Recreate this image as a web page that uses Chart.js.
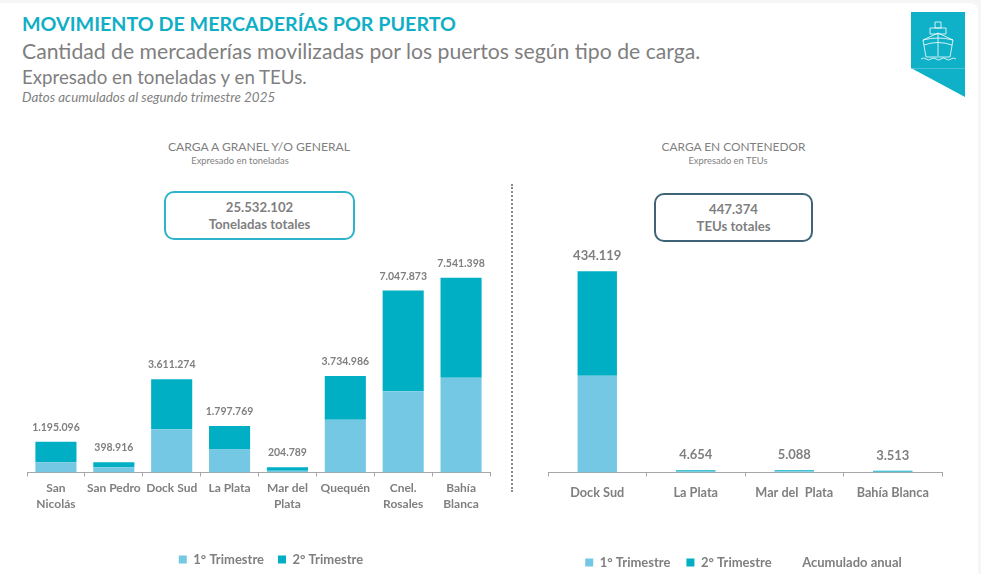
<!DOCTYPE html>
<html lang="es">
<head>
<meta charset="utf-8">
<title>Movimiento de mercaderías por puerto</title>
<script src="https://cdn.jsdelivr.net/npm/chart.js@4"></script>
<style>
  html, body { margin: 0; padding: 0; background: #f5f6f6; }
  body { width: 981px; height: 574px; overflow: hidden; position: relative; font-family: Lato, sans-serif; color: #7f7f7f; }
  #card { position: absolute; left: 0; top: 3px; width: 978px; height: 571px; background: #fff; border-radius: 0 8px 0 0; }
  .txt { position: absolute; white-space: nowrap; }
  .ctr { transform: translateX(-50%); text-align: center; }
  .box { position: absolute; box-sizing: border-box; background: #fff; border-radius: 10px; text-align: center; font-weight: 700; font-size: 13.2px; line-height: 17px; padding-top: 6px; }
  canvas { position: absolute; }
</style>
</head>
<body>
<div id="card"></div>
<div class="txt" style="left:22px;top:10px;font-size:19.7px;font-weight:700;color:#11afc6;line-height:28px">MOVIMIENTO DE MERCADERÍAS POR PUERTO</div>
<div class="txt" style="left:22px;top:37px;font-size:21.2px;line-height:28px">Cantidad de mercaderías movilizadas por los puertos según tipo de carga.</div>
<div class="txt" style="left:22px;top:65px;font-size:18.7px;line-height:24px">Expresado en toneladas y en TEUs.</div>
<div class="txt" style="left:22px;top:89px;font-size:13.4px;font-style:italic;line-height:16px">Datos acumulados al segundo trimestre 2025</div>

<div class="txt ctr" style="left:259px;top:139px;font-size:12.1px;line-height:16px">CARGA A GRANEL Y/O GENERAL</div>
<div class="txt ctr" style="left:240px;top:155px;font-size:9.4px;line-height:12px">Expresado en toneladas</div>
<div class="box" style="left:164px;top:191px;width:191px;height:49px;border:2px solid #2fb3cc">25.532.102<br>Toneladas totales</div>

<div class="txt ctr" style="left:733.5px;top:139px;font-size:11.9px;line-height:16px">CARGA EN CONTENEDOR</div>
<div class="txt ctr" style="left:728px;top:155px;font-size:9.4px;line-height:12px">Expresado en TEUs</div>
<div class="box" style="left:654px;top:193px;width:159px;height:49px;border:2px solid #3f6478">447.374<br>TEUs totales</div>

<div style="position:absolute;left:511px;top:184px;height:308px;border-left:2px dotted #8a8a8a"></div>

<svg style="position:absolute;left:911px;top:12px" width="54" height="86" viewBox="0 0 54 86">
  <polygon points="0,0 54,0 54,85 0,56" fill="#0fb1c8"/>
  <line x1="0" y1="56.5" x2="54" y2="56.5" stroke="#6fd0de" stroke-width="0.6"/>
  <g fill="none" stroke="#fff" stroke-width="0.8" stroke-linejoin="round">
    <rect x="24" y="10" width="6" height="6"/>
    <rect x="19" y="16" width="16" height="6"/>
    <path d="M12 28 L27 21 L42 28 L39 45 H15 Z"/>
    <path d="M12 28 Q27 24 42 28 M13 33 Q27 28 41 33"/>
    <line x1="27" y1="22" x2="27" y2="44"/>
    <path d="M10 47 q2.5 -2 5 0 t5 0 t5 0 t5 0 t5 0 t5 0 t5 0"/>
  </g>
</svg>

<canvas id="granel" style="left:0;top:240px"></canvas>
<canvas id="contenedor" style="left:515px;top:240px"></canvas>

<script>
const seriesNames = ['1° Trimestre', '2° Trimestre'];
const totalName = 'Acumulado anual';

const granelPorts = [['San', 'Nicolás'], 'San Pedro', 'Dock Sud', 'La Plata', ['Mar del', 'Plata'], 'Quequén', ['Cnel.', 'Rosales'], ['Bahía', 'Blanca']];
const granelQ1 = [400000, 205000, 1680000, 890000, 65000, 2040000, 3150000, 3670000];
const granelQ2 = [795096, 193916, 1931274, 907769, 139789, 1694986, 3897873, 3871398];
const granelTotals = [1195096, 398916, 3611274, 1797769, 204789, 3734986, 7047873, 7541398];

const contPorts = ['Dock Sud', 'La Plata', 'Mar del  Plata', 'Bahía Blanca'];
const contQ1 = [209000, 2300, 2500, 1700];
const contQ2 = [225119, 2354, 2588, 1813];
const contTotals = [434119, 4654, 5088, 3513];

const colorQ1 = '#74c8e3';
const colorQ2 = '#00afc3';
const gray = '#7f7f7f';
const axisGray = '#a6a6a6';

Chart.defaults.font.family = 'Lato, sans-serif';
Chart.defaults.color = gray;

// writes the accumulated value on top of every stacked bar
const totalLabels = {
  id: 'totalLabels',
  // the legend is not centred under the axis in the original
  afterLayout(chart, args, opts) {
    chart.legend.left += opts.legendShift;
    chart.legend.right += opts.legendShift;
  },
  afterDatasetsDraw(chart, args, opts) {
    const ctx = chart.ctx;
    const bars = chart.getDatasetMeta(1).data;
    ctx.save();
    ctx.font = '700 ' + opts.size + 'px Lato, sans-serif';
    ctx.fillStyle = gray;
    ctx.textAlign = 'center';
    ctx.textBaseline = 'alphabetic';
    opts.totals.forEach((v, i) => {
      ctx.fillText(v.toLocaleString('de-DE'), bars[i].x, chart.scales.y.getPixelForValue(v) - opts.gap);
    });
    ctx.restore();
  }
};

function makeChart(id, w, h, ports, q1, q2, totals, opt) {
  const datasets = [
    { label: seriesNames[0], data: q1, backgroundColor: colorQ1, stack: 'q' },
    { label: seriesNames[1], data: q2, backgroundColor: colorQ2, stack: 'q' }
  ];
  if (opt.showTotalLegend) {
    datasets.push({ type: 'line', label: totalName, data: totals, stack: 'tot', showLine: false, pointRadius: 0, backgroundColor: 'transparent', borderColor: 'transparent' });
  }
  const canvas = document.getElementById(id);
  canvas.width = w;
  canvas.height = h;
  canvas.style.width = w + 'px';
  canvas.style.height = h + 'px';
  return new Chart(canvas, {
    type: 'bar',
    data: { labels: ports, datasets: datasets },
    plugins: [totalLabels],
    options: {
      responsive: false,
      animation: false,
      devicePixelRatio: 1,
      categoryPercentage: 1,
      barPercentage: opt.barPct,
      layout: { padding: opt.padding },
      plugins: {
        title: { display: false },
        tooltip: { enabled: false },
        totalLabels: { totals: totals, size: opt.labelSize, gap: opt.labelGap, legendShift: opt.legendShift },
        legend: {
          position: 'bottom',
          labels: {
            boxWidth: opt.boxSize,
            boxHeight: opt.boxSize,
            padding: opt.legendPad,
            font: { size: 13, weight: 700 },
            color: gray
          }
        }
      },
      scales: {
        x: {
          stacked: true,
          afterFit(scale) { scale.height = opt.axisHeight; },
          border: { color: axisGray, width: 1 },
          grid: { offset: true, drawOnChartArea: false, drawTicks: true, tickLength: 4, color: axisGray },
          ticks: { font: { size: opt.tickSize, weight: 700, lineHeight: 1.3 }, color: gray, maxRotation: 0, minRotation: 0, autoSkip: false, padding: opt.tickPad }
        },
        y: { stacked: true, display: false, min: 0, max: opt.yMax }
      }
    }
  });
}

makeChart('granel', 510, 336, granelPorts, granelQ1, granelQ2, granelTotals, {
  barPct: 0.71, yMax: 8000000, padding: { left: 27, right: 20, top: 26, bottom: 0 },
  axisHeight: 66.5, boxSize: 8, legendPad: 14, legendShift: 12.5, tickSize: 12, tickPad: 4, labelSize: 10.5, labelGap: 11, showTotalLegend: false
});

makeChart('contenedor', 466, 339, contPorts, contQ1, contQ2, contTotals, {
  barPct: 0.4, yMax: 450000, padding: { left: 33, right: 39, top: 24, bottom: 0 },
  axisHeight: 67.5, boxSize: 8, legendPad: 16, legendShift: -1.5, tickSize: 12.7, tickPad: 8.5, labelSize: 13, labelGap: 11, showTotalLegend: true
});
</script>
</body>
</html>
